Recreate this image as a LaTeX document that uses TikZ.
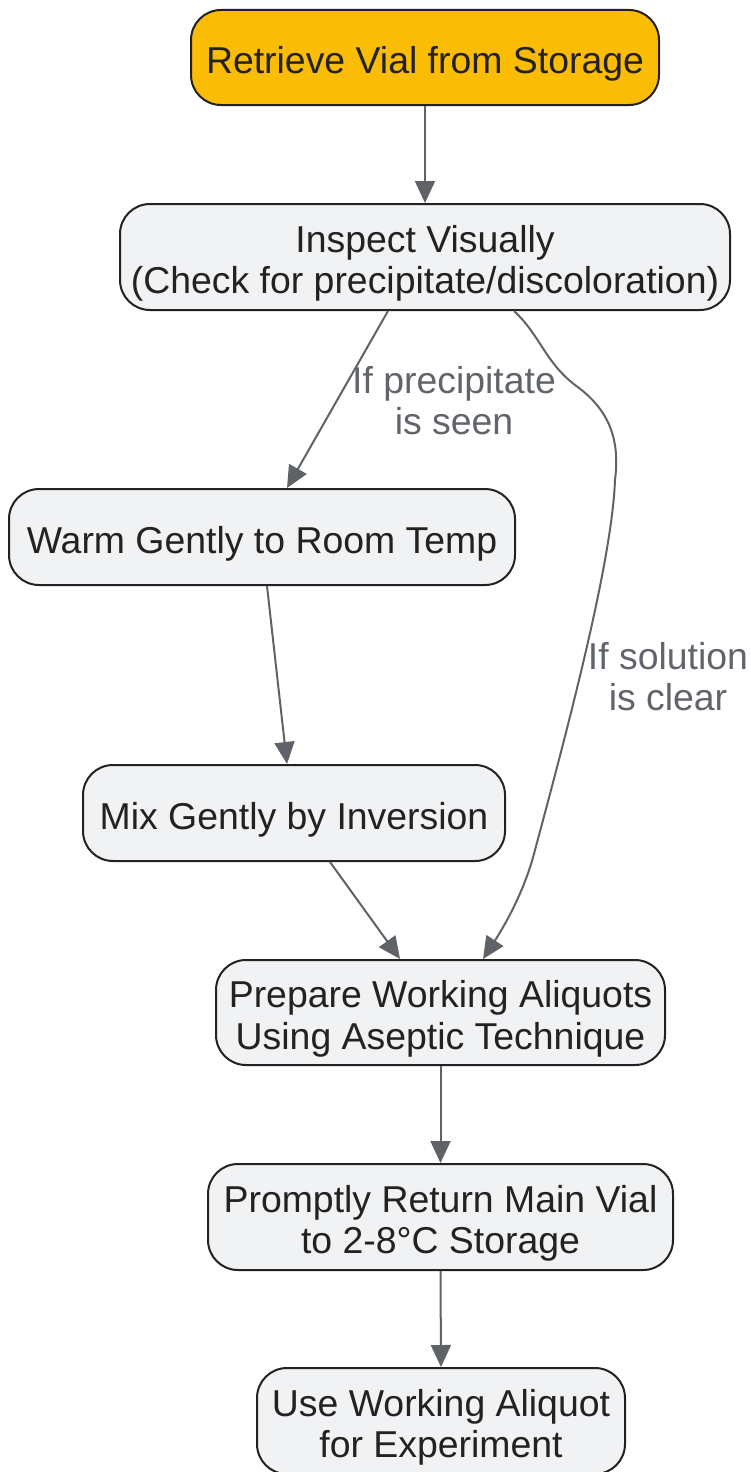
\documentclass[tikz,border=0pt]{standalone}
\usepackage{fontspec}
\setmainfont{Liberation Sans}
\usetikzlibrary{arrows.meta}
\definecolor{boxfill}{HTML}{F1F2F4}
\definecolor{startfill}{HTML}{FBBC05}
\definecolor{boxline}{HTML}{222222}
\definecolor{edgecol}{HTML}{5F6368}
\definecolor{labcol}{HTML}{61656B}
\definecolor{txtcol}{HTML}{222222}
\newcommand{\dnstrut}{\rule{0pt}{40pt}}
\begin{document}
\begin{tikzpicture}[x=1pt,y=-1pt,
  box/.style={draw=boxline, line width=2pt, fill=boxfill, rounded corners=30pt,
    align=center, inner sep=0pt, text=txtcol,
    font=\fontsize{37.4}{41.5}\selectfont},
  startbox/.style={box, fill=startfill},
  edge/.style={draw=edgecol, line width=2pt, -{Triangle[length=22pt,width=20pt]}},
  lab/.style={text=labcol, align=center, font=\fontsize{37.4}{41}\selectfont}
]
\useasboundingbox (0,0) rectangle (750,1472);
\node[startbox, minimum width=468pt, minimum height=95pt] (n1) at (425,57.5) {\dnstrut Retrieve Vial from Storage};
\node[box, minimum width=610pt, minimum height=106pt] (n2) at (425,257) {\dnstrut Inspect Visually\\(Check for precipitate/discoloration)};
\node[box, minimum width=506pt, minimum height=96pt] (n3) at (262,537) {\dnstrut Warm Gently to Room Temp};
\node[box, minimum width=422pt, minimum height=96pt] (n4) at (294,813) {\dnstrut Mix Gently by Inversion};
\node[box, minimum width=449pt, minimum height=105pt] (n5) at (440.5,1012.5) {\dnstrut Prepare Working Aliquots\\Using Aseptic Technique};
\node[box, minimum width=465pt, minimum height=106pt] (n6) at (440.5,1217) {\dnstrut Promptly Return Main Vial\\to 2-8°C Storage};
\node[box, minimum width=368pt, minimum height=106pt] (n7) at (441,1421) {\dnstrut Use Working Aliquot\\for Experiment};

\draw[edge] (n1.south) -- (n2.north);
\draw[edge] ([xshift=-37pt]n2.south) -- ([xshift=25pt]n3.north);
\draw[edge] ([xshift=5pt]n3.south) -- ([xshift=-7pt]n4.north);
\draw[edge] ([xshift=36pt]n4.south) -- ([xshift=-40.5pt]n5.north);
\draw[edge] ([xshift=89pt]n2.south) .. controls (540,335) and (545,362) .. (575,385)
  .. controls (610,410) and (620,440) .. (615,480)
  .. controls (612,560) and (570,720) .. (535,850)
  .. controls (525,890) and (505,925) .. ([xshift=42.5pt]n5.north);
\draw[edge] (n5.south) -- (n6.north);
\draw[edge] (n6.south) -- (n7.north);

\node[lab] (l1) at (454,401) {If precipitate\\is seen};
\node[lab] (l2) at (668,677) {If solution\\is clear};
\end{tikzpicture}
\end{document}
